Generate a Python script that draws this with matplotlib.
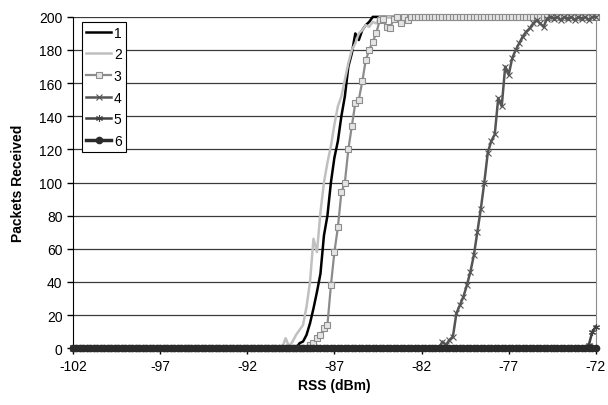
import numpy as np
import matplotlib
matplotlib.use("Agg")
import matplotlib.pyplot as plt

plt.rcParams["font.family"] = ["Liberation Sans", "DejaVu Sans"]
plt.rcParams["axes.unicode_minus"] = False

# RSS grid (dBm), 0.2 dB steps
rss = np.round(np.arange(-102.0, -71.9, 0.2), 1)

# values: first RSS of the transition and the values from there on
s1_start = -89.0
s1_vals = [3, 4, 8, 15, 24, 34, 45, 68, 80, 100, 115, 125, 140, 152, 170,
           178, 190, 186, 192, 195, 197]
s2_start = -89.8
s2_vals = [6, 1, 4, 8, 11, 14, 25, 40, 66, 58, 82, 100, 112, 122, 135, 146,
           152, 162, 172, 180, 184, 190, 192, 195, 194, 197, 196, 200, 199,
           200, 200, 200, 198, 200, 200, 197]
s3_start = -88.4
s3_vals = [2, 3, 6, 8, 12, 14, 38, 58, 73, 94, 100, 120, 134, 148, 150, 161,
           174, 180, 185, 190, 198, 199, 194, 193, 199, 200, 196, 200, 198, 200]
s4_start = -80.8
s4_vals = [4, 2, 5, 7, 21, 26, 31, 38, 46, 56, 70, 84, 100, 118, 125,
           129, 151, 146, 170, 165, 175, 180, 184, 188, 191, 193, 196, 198,
           196, 194, 199, 200, 199, 200, 198, 200, 199, 200, 198, 200,
           199, 200, 198, 200, 200]
s5_start = -72.4
s5_vals = [2, 10, 13]
s6_start = -102.0
s6_vals = [0]


def full_series(start, vals, tail):
    i0 = int(round((start - rss[0]) / 0.2))
    n_tail = len(rss) - i0 - len(vals)
    return np.concatenate([np.zeros(i0), vals, np.full(n_tail, tail)])


series = [
    ("1", full_series(s1_start, s1_vals, 200), dict(color="black", lw=1.8)),
    ("2", full_series(s2_start, s2_vals, 200), dict(color="#c0c0c0", lw=1.8)),
    ("3", full_series(s3_start, s3_vals, 200),
     dict(color="#8c8c8c", lw=1.6, marker="s", ms=4, mfc="#e4e4e4", mec="#8c8c8c", mew=0.8)),
    ("4", full_series(s4_start, s4_vals, 200),
     dict(color="#555555", lw=1.8, marker="x", ms=4, mew=0.8)),
    ("5", full_series(s5_start, s5_vals, 13),
     dict(color="#404040", lw=1.8, marker=(6, 2, 0), ms=5, mew=0.8)),
    ("6", full_series(s6_start, s6_vals, 0),
     dict(color="#2b2b2b", lw=2.5, marker="o", ms=4.5)),
]

fig = plt.figure(figsize=(6.08, 4.06), dpi=100)
ax = fig.add_axes([0.120, 0.140, 0.860, 0.816])

for label, y, style in series:
    ax.plot(rss, y, label=label, clip_on=False, zorder=3, **style)

ax.set_xlim(-102, -72)
ax.set_ylim(0, 200)
ax.set_xticks(np.arange(-102, -71, 5))
ax.set_yticks(np.arange(0, 201, 20))
ax.tick_params(direction="out", length=4, width=1, labelsize=10, color="black")
ax.yaxis.grid(True, color="#3a3a3a", lw=0.9)
ax.set_axisbelow(True)

ax.spines["top"].set_visible(False)
ax.spines["right"].set_color("#8c8c8c")
ax.spines["left"].set_color("black")
ax.spines["bottom"].set_color("black")

ax.set_xlabel("RSS (dBm)", fontsize=10, fontweight="bold", labelpad=4)
ax.set_ylabel("Packets Received", fontsize=10, fontweight="bold", labelpad=10)

leg = ax.legend(loc="upper left", bbox_to_anchor=(0.017, 0.986), borderaxespad=0,
                fontsize=10, handlelength=1.8, handletextpad=0.2, labelspacing=0.55,
                borderpad=0.3, fancybox=False, framealpha=1)
leg.get_frame().set_edgecolor("black")
leg.get_frame().set_linewidth(0.8)

fig.savefig("out.png", dpi=100, facecolor="white")
